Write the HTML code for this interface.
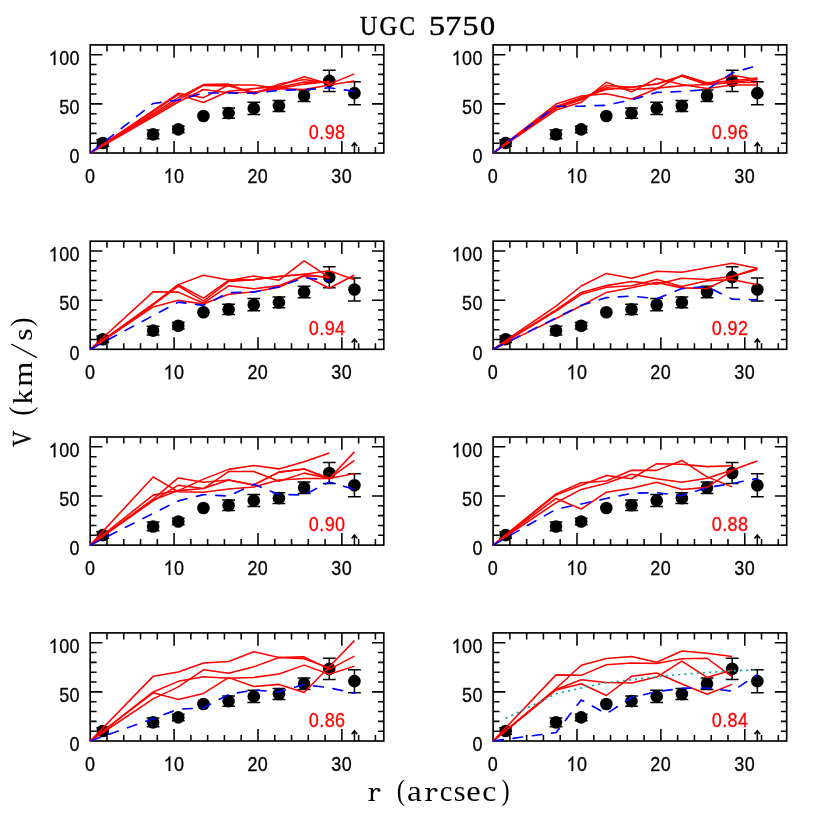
<!DOCTYPE html>
<html><head><meta charset="utf-8"><title>UGC 5750</title>
<style>html,body{margin:0;padding:0;background:#fff}svg{display:block}text{font-family:"Liberation Sans",sans-serif}.s{font-family:"Liberation Serif",serif}.m{font-family:"Liberation Mono",monospace}</style></head><body>
<svg width="830" height="830" viewBox="0 0 830 830" style="will-change:transform">
<rect width="830" height="830" fill="#fff"/>
<g>
<path d="M106.98 153v-6M106.98 44.9v6.5M123.75 153v-6M123.75 44.9v6.5M140.53 153v-6M140.53 44.9v6.5M157.31 153v-6M157.31 44.9v6.5M174.09 153v-12.1M174.09 44.9v12.8M190.86 153v-6M190.86 44.9v6.5M207.64 153v-6M207.64 44.9v6.5M224.42 153v-6M224.42 44.9v6.5M241.19 153v-6M241.19 44.9v6.5M257.97 153v-12.1M257.97 44.9v12.8M274.75 153v-6M274.75 44.9v6.5M291.53 153v-6M291.53 44.9v6.5M308.3 153v-6M308.3 44.9v6.5M325.08 153v-6M325.08 44.9v6.5M341.86 153v-12.1M341.86 44.9v12.8M358.63 153v-6M358.63 44.9v6.5M375.41 153v-6M375.41 44.9v6.5M90.2 143.17h6.4M383.8 143.17h-5.8M90.2 133.35h6.4M383.8 133.35h-5.8M90.2 123.52h6.4M383.8 123.52h-5.8M90.2 113.69h6.4M383.8 113.69h-5.8M90.2 103.86h12.2M383.8 103.86h-11.8M90.2 94.04h6.4M383.8 94.04h-5.8M90.2 84.21h6.4M383.8 84.21h-5.8M90.2 74.38h6.4M383.8 74.38h-5.8M90.2 64.55h6.4M383.8 64.55h-5.8M90.2 54.73h12.2M383.8 54.73h-11.8" stroke="#000" stroke-width="1.55" fill="none"/>
<rect x="90.2" y="44.9" width="293.6" height="108.1" fill="none" stroke="#000" stroke-width="1.65"/>
<path d="M102.78 139.73V146.22M96.38 139.73H109.18M96.38 146.22H109.18M153.11 130V138.65M146.71 130H159.51M146.71 138.65H159.51M178.28 126.17V132.66M171.88 126.17H184.68M171.88 132.66H184.68M228.61 107.89V118.31M222.21 107.89H235.01M222.21 118.31H235.01M253.78 102.29V114.48M247.38 102.29H260.18M247.38 114.48H260.18M278.94 100.62V111.43M272.54 100.62H285.34M272.54 111.43H285.34M304.11 90.01V101.41M297.71 90.01H310.51M297.71 101.41H310.51M329.27 70.35V91.38M322.87 70.35H335.67M322.87 91.38H335.67M354.44 81.65V104.65M348.04 81.65H360.84M348.04 104.65H360.84" stroke="#000" stroke-width="1.5" fill="none"/>
<circle cx="102.78" cy="142.98" r="6.3" fill="#000"/>
<circle cx="153.11" cy="134.33" r="6.3" fill="#000"/>
<circle cx="178.28" cy="129.41" r="6.3" fill="#000"/>
<circle cx="203.45" cy="115.95" r="6.3" fill="#000"/>
<circle cx="228.61" cy="113.1" r="6.3" fill="#000"/>
<circle cx="253.78" cy="108.38" r="6.3" fill="#000"/>
<circle cx="278.94" cy="106.03" r="6.3" fill="#000"/>
<circle cx="304.11" cy="95.71" r="6.3" fill="#000"/>
<circle cx="329.27" cy="80.87" r="6.3" fill="#000"/>
<circle cx="354.44" cy="93.15" r="6.3" fill="#000"/>
<polyline points="90.2,153 153.11,110.55 178.28,93.35 203.45,97.67 228.61,85 253.78,85 278.94,88.63 304.11,89.52 329.27,85 354.44,81.06" fill="none" stroke="#ff0000" stroke-width="1.55" stroke-linejoin="round"/>
<polyline points="90.2,153 153.11,111.53 178.28,94.63 203.45,102.49 228.61,91.28 253.78,88.63 278.94,85.88 304.11,76.84 329.27,84.11 354.44,73.89" fill="none" stroke="#ff0000" stroke-width="1.55" stroke-linejoin="round"/>
<polyline points="90.2,153 153.11,113.59 178.28,97.57 203.45,84.6 228.61,84.11 253.78,94.04 278.94,84.11 304.11,79.59 329.27,83.23" fill="none" stroke="#ff0000" stroke-width="1.55" stroke-linejoin="round"/>
<polyline points="90.2,153 153.11,115.16 178.28,99.83 203.45,85.39 228.61,85.88 253.78,92.27 278.94,87.35 304.11,81.95 329.27,82.24" fill="none" stroke="#ff0000" stroke-width="1.55" stroke-linejoin="round"/>
<polyline points="90.2,153 153.11,116.74 178.28,102 203.45,89.52 228.61,92.76 253.78,92.27 278.94,88.63 304.11,84.11 329.27,81.36" fill="none" stroke="#ff0000" stroke-width="1.55" stroke-linejoin="round"/>
<polyline points="90.2,153 153.11,103.47 178.28,100.13 203.45,92.96 228.61,92.96 253.78,93.25 278.94,90.4 304.11,89.71 329.27,87.75 354.44,91.28" fill="none" stroke="#0000ff" stroke-width="1.65" stroke-dasharray="9.6,9.85" stroke-dashoffset="-0.7" stroke-linecap="round" stroke-linejoin="round"/>
<path d="M354.44 153V142.8M351.64 146.3L354.44 142.8L357.24 146.3" stroke="#000" stroke-width="1.55" fill="none" stroke-linejoin="miter"/>
<text transform="translate(84.89,183) scale(1,1.1389)" font-size="18" stroke-width="0.25" stroke="#000" fill="#000">0</text>
<path transform="translate(163.58,183) scale(0.00879,-0.01001)" d="M763 0H583V1147Q518 1085 412.5 1023T223 930V1104Q380 1178 497.5 1283T664 1466H763Z" fill="#000" stroke="#000" stroke-width="28.44"/>
<text transform="translate(173.99,183) scale(1,1.1389)" font-size="18" stroke-width="0.25" stroke="#000" fill="#000">0</text>
<text transform="translate(247.46,183) scale(1,1.1389)" font-size="18" stroke-width="0.25" stroke="#000" fill="#000">2</text>
<text transform="translate(257.87,183) scale(1,1.1389)" font-size="18" stroke-width="0.25" stroke="#000" fill="#000">0</text>
<text transform="translate(331.35,183) scale(1,1.1389)" font-size="18" stroke-width="0.25" stroke="#000" fill="#000">3</text>
<text transform="translate(341.76,183) scale(1,1.1389)" font-size="18" stroke-width="0.25" stroke="#000" fill="#000">0</text>
<text transform="translate(69.59,163.3) scale(1,1.1111)" font-size="18" stroke-width="0.25" stroke="#000" fill="#000">0</text>
<text transform="translate(59.13,114.16) scale(1,1.1111)" font-size="18" stroke-width="0.25" stroke="#000" fill="#000">5</text>
<text transform="translate(69.59,114.16) scale(1,1.1111)" font-size="18" stroke-width="0.25" stroke="#000" fill="#000">0</text>
<path transform="translate(48.67,65.03) scale(0.00879,-0.00977)" d="M763 0H583V1147Q518 1085 412.5 1023T223 930V1104Q380 1178 497.5 1283T664 1466H763Z" fill="#000" stroke="#000" stroke-width="28.44"/>
<text transform="translate(59.13,65.03) scale(1,1.1111)" font-size="18" stroke-width="0.25" stroke="#000" fill="#000">0</text>
<text transform="translate(69.59,65.03) scale(1,1.1111)" font-size="18" stroke-width="0.25" stroke="#000" fill="#000">0</text>
<text transform="translate(308.87,138.5) scale(1,1.1389)" font-size="18" stroke-width="0.25" stroke="#ff0000" fill="#ff0000">0</text>
<text transform="translate(319.28,138.5) scale(1,1.1389)" font-size="18" stroke-width="0.25" stroke="#ff0000" fill="#ff0000">.</text>
<text transform="translate(324.68,138.5) scale(1,1.1389)" font-size="18" stroke-width="0.25" stroke="#ff0000" fill="#ff0000">9</text>
<text transform="translate(335.09,138.5) scale(1,1.1389)" font-size="18" stroke-width="0.25" stroke="#ff0000" fill="#ff0000">8</text>
</g>
<g>
<path d="M509.88 153v-6M509.88 44.9v6.5M526.65 153v-6M526.65 44.9v6.5M543.43 153v-6M543.43 44.9v6.5M560.21 153v-6M560.21 44.9v6.5M576.99 153v-12.1M576.99 44.9v12.8M593.76 153v-6M593.76 44.9v6.5M610.54 153v-6M610.54 44.9v6.5M627.32 153v-6M627.32 44.9v6.5M644.09 153v-6M644.09 44.9v6.5M660.87 153v-12.1M660.87 44.9v12.8M677.65 153v-6M677.65 44.9v6.5M694.43 153v-6M694.43 44.9v6.5M711.2 153v-6M711.2 44.9v6.5M727.98 153v-6M727.98 44.9v6.5M744.76 153v-12.1M744.76 44.9v12.8M761.53 153v-6M761.53 44.9v6.5M778.31 153v-6M778.31 44.9v6.5M493.1 143.17h6.4M786.7 143.17h-5.8M493.1 133.35h6.4M786.7 133.35h-5.8M493.1 123.52h6.4M786.7 123.52h-5.8M493.1 113.69h6.4M786.7 113.69h-5.8M493.1 103.86h12.2M786.7 103.86h-11.8M493.1 94.04h6.4M786.7 94.04h-5.8M493.1 84.21h6.4M786.7 84.21h-5.8M493.1 74.38h6.4M786.7 74.38h-5.8M493.1 64.55h6.4M786.7 64.55h-5.8M493.1 54.73h12.2M786.7 54.73h-11.8" stroke="#000" stroke-width="1.55" fill="none"/>
<rect x="493.1" y="44.9" width="293.6" height="108.1" fill="none" stroke="#000" stroke-width="1.65"/>
<path d="M505.68 139.73V146.22M499.28 139.73H512.08M499.28 146.22H512.08M556.01 130V138.65M549.61 130H562.41M549.61 138.65H562.41M581.18 126.17V132.66M574.78 126.17H587.58M574.78 132.66H587.58M631.51 107.89V118.31M625.11 107.89H637.91M625.11 118.31H637.91M656.68 102.29V114.48M650.28 102.29H663.08M650.28 114.48H663.08M681.84 100.62V111.43M675.44 100.62H688.24M675.44 111.43H688.24M707.01 90.01V101.41M700.61 90.01H713.41M700.61 101.41H713.41M732.17 70.35V91.38M725.77 70.35H738.57M725.77 91.38H738.57M757.34 81.65V104.65M750.94 81.65H763.74M750.94 104.65H763.74" stroke="#000" stroke-width="1.5" fill="none"/>
<circle cx="505.68" cy="142.98" r="6.3" fill="#000"/>
<circle cx="556.01" cy="134.33" r="6.3" fill="#000"/>
<circle cx="581.18" cy="129.41" r="6.3" fill="#000"/>
<circle cx="606.35" cy="115.95" r="6.3" fill="#000"/>
<circle cx="631.51" cy="113.1" r="6.3" fill="#000"/>
<circle cx="656.68" cy="108.38" r="6.3" fill="#000"/>
<circle cx="681.84" cy="106.03" r="6.3" fill="#000"/>
<circle cx="707.01" cy="95.71" r="6.3" fill="#000"/>
<circle cx="732.17" cy="80.87" r="6.3" fill="#000"/>
<circle cx="757.34" cy="93.15" r="6.3" fill="#000"/>
<polyline points="493.1,153 556.01,104.06 581.18,96.1 606.35,93.74 631.51,98.95 656.68,88.73 681.84,75.07 707.01,82.73 732.17,80.67 757.34,78.12" fill="none" stroke="#ff0000" stroke-width="1.55" stroke-linejoin="round"/>
<polyline points="493.1,153 556.01,106.42 581.18,97.77 606.35,89.52 631.51,87.35 656.68,83.91 681.84,76.05 707.01,84.5 732.17,75.27 757.34,79.49" fill="none" stroke="#ff0000" stroke-width="1.55" stroke-linejoin="round"/>
<polyline points="493.1,153 556.01,108.29 581.18,99.83 606.35,85.49 631.51,87.35 656.68,83.91 681.84,76.05 707.01,84.5 732.17,82.54 757.34,82.54" fill="none" stroke="#ff0000" stroke-width="1.55" stroke-linejoin="round"/>
<polyline points="493.1,153 556.01,110.05 581.18,102.29 606.35,82.24 631.51,91.87 656.68,78.51 681.84,84.5 707.01,88.43 732.17,84.9 757.34,84.9" fill="none" stroke="#ff0000" stroke-width="1.55" stroke-linejoin="round"/>
<polyline points="493.1,153 556.01,107.4 581.18,99.05 606.35,87.75 631.51,89.52 656.68,88.14 681.84,85.68 707.01,84.5 732.17,82.54 757.34,79.49" fill="none" stroke="#ff0000" stroke-width="1.55" stroke-linejoin="round"/>
<polyline points="493.1,153 556.01,106.22 581.18,106.22 606.35,105.24 631.51,99.83 656.68,92.37 681.84,91.48 707.01,89.52 732.17,72.91 757.34,65.64" fill="none" stroke="#0000ff" stroke-width="1.65" stroke-dasharray="9.6,9.85" stroke-dashoffset="-0.7" stroke-linecap="round" stroke-linejoin="round"/>
<path d="M757.34 153V142.8M754.54 146.3L757.34 142.8L760.14 146.3" stroke="#000" stroke-width="1.55" fill="none" stroke-linejoin="miter"/>
<text transform="translate(487.79,183) scale(1,1.1389)" font-size="18" stroke-width="0.25" stroke="#000" fill="#000">0</text>
<path transform="translate(566.48,183) scale(0.00879,-0.01001)" d="M763 0H583V1147Q518 1085 412.5 1023T223 930V1104Q380 1178 497.5 1283T664 1466H763Z" fill="#000" stroke="#000" stroke-width="28.44"/>
<text transform="translate(576.89,183) scale(1,1.1389)" font-size="18" stroke-width="0.25" stroke="#000" fill="#000">0</text>
<text transform="translate(650.36,183) scale(1,1.1389)" font-size="18" stroke-width="0.25" stroke="#000" fill="#000">2</text>
<text transform="translate(660.77,183) scale(1,1.1389)" font-size="18" stroke-width="0.25" stroke="#000" fill="#000">0</text>
<text transform="translate(734.25,183) scale(1,1.1389)" font-size="18" stroke-width="0.25" stroke="#000" fill="#000">3</text>
<text transform="translate(744.66,183) scale(1,1.1389)" font-size="18" stroke-width="0.25" stroke="#000" fill="#000">0</text>
<text transform="translate(472.49,163.3) scale(1,1.1111)" font-size="18" stroke-width="0.25" stroke="#000" fill="#000">0</text>
<text transform="translate(462.03,114.16) scale(1,1.1111)" font-size="18" stroke-width="0.25" stroke="#000" fill="#000">5</text>
<text transform="translate(472.49,114.16) scale(1,1.1111)" font-size="18" stroke-width="0.25" stroke="#000" fill="#000">0</text>
<path transform="translate(451.57,65.03) scale(0.00879,-0.00977)" d="M763 0H583V1147Q518 1085 412.5 1023T223 930V1104Q380 1178 497.5 1283T664 1466H763Z" fill="#000" stroke="#000" stroke-width="28.44"/>
<text transform="translate(462.03,65.03) scale(1,1.1111)" font-size="18" stroke-width="0.25" stroke="#000" fill="#000">0</text>
<text transform="translate(472.49,65.03) scale(1,1.1111)" font-size="18" stroke-width="0.25" stroke="#000" fill="#000">0</text>
<text transform="translate(711.77,138.5) scale(1,1.1389)" font-size="18" stroke-width="0.25" stroke="#ff0000" fill="#ff0000">0</text>
<text transform="translate(722.18,138.5) scale(1,1.1389)" font-size="18" stroke-width="0.25" stroke="#ff0000" fill="#ff0000">.</text>
<text transform="translate(727.58,138.5) scale(1,1.1389)" font-size="18" stroke-width="0.25" stroke="#ff0000" fill="#ff0000">9</text>
<text transform="translate(737.99,138.5) scale(1,1.1389)" font-size="18" stroke-width="0.25" stroke="#ff0000" fill="#ff0000">6</text>
</g>
<g>
<path d="M106.98 349.3v-6M106.98 241.2v6.5M123.75 349.3v-6M123.75 241.2v6.5M140.53 349.3v-6M140.53 241.2v6.5M157.31 349.3v-6M157.31 241.2v6.5M174.09 349.3v-12.1M174.09 241.2v12.8M190.86 349.3v-6M190.86 241.2v6.5M207.64 349.3v-6M207.64 241.2v6.5M224.42 349.3v-6M224.42 241.2v6.5M241.19 349.3v-6M241.19 241.2v6.5M257.97 349.3v-12.1M257.97 241.2v12.8M274.75 349.3v-6M274.75 241.2v6.5M291.53 349.3v-6M291.53 241.2v6.5M308.3 349.3v-6M308.3 241.2v6.5M325.08 349.3v-6M325.08 241.2v6.5M341.86 349.3v-12.1M341.86 241.2v12.8M358.63 349.3v-6M358.63 241.2v6.5M375.41 349.3v-6M375.41 241.2v6.5M90.2 339.47h6.4M383.8 339.47h-5.8M90.2 329.65h6.4M383.8 329.65h-5.8M90.2 319.82h6.4M383.8 319.82h-5.8M90.2 309.99h6.4M383.8 309.99h-5.8M90.2 300.16h12.2M383.8 300.16h-11.8M90.2 290.34h6.4M383.8 290.34h-5.8M90.2 280.51h6.4M383.8 280.51h-5.8M90.2 270.68h6.4M383.8 270.68h-5.8M90.2 260.85h6.4M383.8 260.85h-5.8M90.2 251.03h12.2M383.8 251.03h-11.8" stroke="#000" stroke-width="1.55" fill="none"/>
<rect x="90.2" y="241.2" width="293.6" height="108.1" fill="none" stroke="#000" stroke-width="1.65"/>
<path d="M102.78 336.03V342.52M96.38 336.03H109.18M96.38 342.52H109.18M153.11 326.3V334.95M146.71 326.3H159.51M146.71 334.95H159.51M178.28 322.47V328.96M171.88 322.47H184.68M171.88 328.96H184.68M228.61 304.19V314.61M222.21 304.19H235.01M222.21 314.61H235.01M253.78 298.59V310.78M247.38 298.59H260.18M247.38 310.78H260.18M278.94 296.92V307.73M272.54 296.92H285.34M272.54 307.73H285.34M304.11 286.31V297.71M297.71 286.31H310.51M297.71 297.71H310.51M329.27 266.65V287.68M322.87 266.65H335.67M322.87 287.68H335.67M354.44 277.95V300.95M348.04 277.95H360.84M348.04 300.95H360.84" stroke="#000" stroke-width="1.5" fill="none"/>
<circle cx="102.78" cy="339.28" r="6.3" fill="#000"/>
<circle cx="153.11" cy="330.63" r="6.3" fill="#000"/>
<circle cx="178.28" cy="325.71" r="6.3" fill="#000"/>
<circle cx="203.45" cy="312.25" r="6.3" fill="#000"/>
<circle cx="228.61" cy="309.4" r="6.3" fill="#000"/>
<circle cx="253.78" cy="304.68" r="6.3" fill="#000"/>
<circle cx="278.94" cy="302.33" r="6.3" fill="#000"/>
<circle cx="304.11" cy="292.01" r="6.3" fill="#000"/>
<circle cx="329.27" cy="277.17" r="6.3" fill="#000"/>
<circle cx="354.44" cy="289.45" r="6.3" fill="#000"/>
<polyline points="90.2,349.3 153.11,291.81 178.28,292.11 203.45,303.21 228.61,285.82 253.78,288.76 278.94,285.62 304.11,275.69 329.27,288.27 354.44,275.01" fill="none" stroke="#ff0000" stroke-width="1.55" stroke-linejoin="round"/>
<polyline points="90.2,349.3 153.11,304 178.28,284.64 203.45,275.2 228.61,280.02 253.78,279.62 278.94,276.58 304.11,274.22 329.27,270.78 354.44,279.82" fill="none" stroke="#ff0000" stroke-width="1.55" stroke-linejoin="round"/>
<polyline points="90.2,349.3 153.11,304.49 178.28,284.64 203.45,298.1 228.61,280.41 253.78,275.99 278.94,280.21 304.11,260.95 329.27,277.46" fill="none" stroke="#ff0000" stroke-width="1.55" stroke-linejoin="round"/>
<polyline points="90.2,349.3 153.11,304.98 178.28,286.01 203.45,301.05 228.61,281.49 253.78,279.62 278.94,276.58 304.11,274.22 329.27,277.95" fill="none" stroke="#ff0000" stroke-width="1.55" stroke-linejoin="round"/>
<polyline points="90.2,349.3 153.11,306.94 178.28,300.36 203.45,304 228.61,294.27 253.78,291.71 278.94,287.19 304.11,275.69 329.27,277.07" fill="none" stroke="#ff0000" stroke-width="1.55" stroke-linejoin="round"/>
<polyline points="90.2,349.3 178.28,302.13 203.45,305.37 228.61,292.69 253.78,292.11 278.94,286.7 304.11,277.66 329.27,280.71" fill="none" stroke="#0000ff" stroke-width="1.65" stroke-dasharray="9.6,9.85" stroke-dashoffset="-0.7" stroke-linecap="round" stroke-linejoin="round"/>
<path d="M354.44 349.3V339.1M351.64 342.6L354.44 339.1L357.24 342.6" stroke="#000" stroke-width="1.55" fill="none" stroke-linejoin="miter"/>
<text transform="translate(84.89,379.3) scale(1,1.1389)" font-size="18" stroke-width="0.25" stroke="#000" fill="#000">0</text>
<path transform="translate(163.58,379.3) scale(0.00879,-0.01001)" d="M763 0H583V1147Q518 1085 412.5 1023T223 930V1104Q380 1178 497.5 1283T664 1466H763Z" fill="#000" stroke="#000" stroke-width="28.44"/>
<text transform="translate(173.99,379.3) scale(1,1.1389)" font-size="18" stroke-width="0.25" stroke="#000" fill="#000">0</text>
<text transform="translate(247.46,379.3) scale(1,1.1389)" font-size="18" stroke-width="0.25" stroke="#000" fill="#000">2</text>
<text transform="translate(257.87,379.3) scale(1,1.1389)" font-size="18" stroke-width="0.25" stroke="#000" fill="#000">0</text>
<text transform="translate(331.35,379.3) scale(1,1.1389)" font-size="18" stroke-width="0.25" stroke="#000" fill="#000">3</text>
<text transform="translate(341.76,379.3) scale(1,1.1389)" font-size="18" stroke-width="0.25" stroke="#000" fill="#000">0</text>
<text transform="translate(69.59,359.6) scale(1,1.1111)" font-size="18" stroke-width="0.25" stroke="#000" fill="#000">0</text>
<text transform="translate(59.13,310.46) scale(1,1.1111)" font-size="18" stroke-width="0.25" stroke="#000" fill="#000">5</text>
<text transform="translate(69.59,310.46) scale(1,1.1111)" font-size="18" stroke-width="0.25" stroke="#000" fill="#000">0</text>
<path transform="translate(48.67,261.33) scale(0.00879,-0.00977)" d="M763 0H583V1147Q518 1085 412.5 1023T223 930V1104Q380 1178 497.5 1283T664 1466H763Z" fill="#000" stroke="#000" stroke-width="28.44"/>
<text transform="translate(59.13,261.33) scale(1,1.1111)" font-size="18" stroke-width="0.25" stroke="#000" fill="#000">0</text>
<text transform="translate(69.59,261.33) scale(1,1.1111)" font-size="18" stroke-width="0.25" stroke="#000" fill="#000">0</text>
<text transform="translate(308.87,334.8) scale(1,1.1389)" font-size="18" stroke-width="0.25" stroke="#ff0000" fill="#ff0000">0</text>
<text transform="translate(319.28,334.8) scale(1,1.1389)" font-size="18" stroke-width="0.25" stroke="#ff0000" fill="#ff0000">.</text>
<text transform="translate(324.68,334.8) scale(1,1.1389)" font-size="18" stroke-width="0.25" stroke="#ff0000" fill="#ff0000">9</text>
<text transform="translate(335.09,334.8) scale(1,1.1389)" font-size="18" stroke-width="0.25" stroke="#ff0000" fill="#ff0000">4</text>
</g>
<g>
<path d="M509.88 349.3v-6M509.88 241.2v6.5M526.65 349.3v-6M526.65 241.2v6.5M543.43 349.3v-6M543.43 241.2v6.5M560.21 349.3v-6M560.21 241.2v6.5M576.99 349.3v-12.1M576.99 241.2v12.8M593.76 349.3v-6M593.76 241.2v6.5M610.54 349.3v-6M610.54 241.2v6.5M627.32 349.3v-6M627.32 241.2v6.5M644.09 349.3v-6M644.09 241.2v6.5M660.87 349.3v-12.1M660.87 241.2v12.8M677.65 349.3v-6M677.65 241.2v6.5M694.43 349.3v-6M694.43 241.2v6.5M711.2 349.3v-6M711.2 241.2v6.5M727.98 349.3v-6M727.98 241.2v6.5M744.76 349.3v-12.1M744.76 241.2v12.8M761.53 349.3v-6M761.53 241.2v6.5M778.31 349.3v-6M778.31 241.2v6.5M493.1 339.47h6.4M786.7 339.47h-5.8M493.1 329.65h6.4M786.7 329.65h-5.8M493.1 319.82h6.4M786.7 319.82h-5.8M493.1 309.99h6.4M786.7 309.99h-5.8M493.1 300.16h12.2M786.7 300.16h-11.8M493.1 290.34h6.4M786.7 290.34h-5.8M493.1 280.51h6.4M786.7 280.51h-5.8M493.1 270.68h6.4M786.7 270.68h-5.8M493.1 260.85h6.4M786.7 260.85h-5.8M493.1 251.03h12.2M786.7 251.03h-11.8" stroke="#000" stroke-width="1.55" fill="none"/>
<rect x="493.1" y="241.2" width="293.6" height="108.1" fill="none" stroke="#000" stroke-width="1.65"/>
<path d="M505.68 336.03V342.52M499.28 336.03H512.08M499.28 342.52H512.08M556.01 326.3V334.95M549.61 326.3H562.41M549.61 334.95H562.41M581.18 322.47V328.96M574.78 322.47H587.58M574.78 328.96H587.58M631.51 304.19V314.61M625.11 304.19H637.91M625.11 314.61H637.91M656.68 298.59V310.78M650.28 298.59H663.08M650.28 310.78H663.08M681.84 296.92V307.73M675.44 296.92H688.24M675.44 307.73H688.24M707.01 286.31V297.71M700.61 286.31H713.41M700.61 297.71H713.41M732.17 266.65V287.68M725.77 266.65H738.57M725.77 287.68H738.57M757.34 277.95V300.95M750.94 277.95H763.74M750.94 300.95H763.74" stroke="#000" stroke-width="1.5" fill="none"/>
<circle cx="505.68" cy="339.28" r="6.3" fill="#000"/>
<circle cx="556.01" cy="330.63" r="6.3" fill="#000"/>
<circle cx="581.18" cy="325.71" r="6.3" fill="#000"/>
<circle cx="606.35" cy="312.25" r="6.3" fill="#000"/>
<circle cx="631.51" cy="309.4" r="6.3" fill="#000"/>
<circle cx="656.68" cy="304.68" r="6.3" fill="#000"/>
<circle cx="681.84" cy="302.33" r="6.3" fill="#000"/>
<circle cx="707.01" cy="292.01" r="6.3" fill="#000"/>
<circle cx="732.17" cy="277.17" r="6.3" fill="#000"/>
<circle cx="757.34" cy="289.45" r="6.3" fill="#000"/>
<polyline points="493.1,349.3 556.01,306.06 581.18,286.01 606.35,273.43 631.51,278.25 656.68,271.17 681.84,272.35 707.01,267.83 732.17,263.31 757.34,268.32" fill="none" stroke="#ff0000" stroke-width="1.55" stroke-linejoin="round"/>
<polyline points="493.1,349.3 556.01,309.99 581.18,292.4 606.35,285.62 631.51,281.59 656.68,284.24 681.84,278.15 707.01,279.43 732.17,276.58 757.34,269.6" fill="none" stroke="#ff0000" stroke-width="1.55" stroke-linejoin="round"/>
<polyline points="493.1,349.3 556.01,311.17 581.18,294.27 606.35,287.19 631.51,285.82 656.68,279.43 681.84,286.6 707.01,280.71 732.17,279.53 757.34,284.64" fill="none" stroke="#ff0000" stroke-width="1.55" stroke-linejoin="round"/>
<polyline points="493.1,349.3 556.01,318.44 581.18,305.77 606.35,292.4 631.51,287.78 656.68,282.38 681.84,287.88 707.01,288.57 732.17,276.58 757.34,268.32" fill="none" stroke="#ff0000" stroke-width="1.55" stroke-linejoin="round"/>
<polyline points="493.1,349.3 581.18,305.37 606.35,297.61 631.51,296.04 656.68,298.79 681.84,288.57 707.01,286.6 732.17,299.18 757.34,299.77" fill="none" stroke="#0000ff" stroke-width="1.65" stroke-dasharray="9.6,9.85" stroke-dashoffset="-0.7" stroke-linecap="round" stroke-linejoin="round"/>
<path d="M757.34 349.3V339.1M754.54 342.6L757.34 339.1L760.14 342.6" stroke="#000" stroke-width="1.55" fill="none" stroke-linejoin="miter"/>
<text transform="translate(487.79,379.3) scale(1,1.1389)" font-size="18" stroke-width="0.25" stroke="#000" fill="#000">0</text>
<path transform="translate(566.48,379.3) scale(0.00879,-0.01001)" d="M763 0H583V1147Q518 1085 412.5 1023T223 930V1104Q380 1178 497.5 1283T664 1466H763Z" fill="#000" stroke="#000" stroke-width="28.44"/>
<text transform="translate(576.89,379.3) scale(1,1.1389)" font-size="18" stroke-width="0.25" stroke="#000" fill="#000">0</text>
<text transform="translate(650.36,379.3) scale(1,1.1389)" font-size="18" stroke-width="0.25" stroke="#000" fill="#000">2</text>
<text transform="translate(660.77,379.3) scale(1,1.1389)" font-size="18" stroke-width="0.25" stroke="#000" fill="#000">0</text>
<text transform="translate(734.25,379.3) scale(1,1.1389)" font-size="18" stroke-width="0.25" stroke="#000" fill="#000">3</text>
<text transform="translate(744.66,379.3) scale(1,1.1389)" font-size="18" stroke-width="0.25" stroke="#000" fill="#000">0</text>
<text transform="translate(472.49,359.6) scale(1,1.1111)" font-size="18" stroke-width="0.25" stroke="#000" fill="#000">0</text>
<text transform="translate(462.03,310.46) scale(1,1.1111)" font-size="18" stroke-width="0.25" stroke="#000" fill="#000">5</text>
<text transform="translate(472.49,310.46) scale(1,1.1111)" font-size="18" stroke-width="0.25" stroke="#000" fill="#000">0</text>
<path transform="translate(451.57,261.33) scale(0.00879,-0.00977)" d="M763 0H583V1147Q518 1085 412.5 1023T223 930V1104Q380 1178 497.5 1283T664 1466H763Z" fill="#000" stroke="#000" stroke-width="28.44"/>
<text transform="translate(462.03,261.33) scale(1,1.1111)" font-size="18" stroke-width="0.25" stroke="#000" fill="#000">0</text>
<text transform="translate(472.49,261.33) scale(1,1.1111)" font-size="18" stroke-width="0.25" stroke="#000" fill="#000">0</text>
<text transform="translate(711.77,334.8) scale(1,1.1389)" font-size="18" stroke-width="0.25" stroke="#ff0000" fill="#ff0000">0</text>
<text transform="translate(722.18,334.8) scale(1,1.1389)" font-size="18" stroke-width="0.25" stroke="#ff0000" fill="#ff0000">.</text>
<text transform="translate(727.58,334.8) scale(1,1.1389)" font-size="18" stroke-width="0.25" stroke="#ff0000" fill="#ff0000">9</text>
<text transform="translate(737.99,334.8) scale(1,1.1389)" font-size="18" stroke-width="0.25" stroke="#ff0000" fill="#ff0000">2</text>
</g>
<g>
<path d="M106.98 545.1v-6M106.98 437v6.5M123.75 545.1v-6M123.75 437v6.5M140.53 545.1v-6M140.53 437v6.5M157.31 545.1v-6M157.31 437v6.5M174.09 545.1v-12.1M174.09 437v12.8M190.86 545.1v-6M190.86 437v6.5M207.64 545.1v-6M207.64 437v6.5M224.42 545.1v-6M224.42 437v6.5M241.19 545.1v-6M241.19 437v6.5M257.97 545.1v-12.1M257.97 437v12.8M274.75 545.1v-6M274.75 437v6.5M291.53 545.1v-6M291.53 437v6.5M308.3 545.1v-6M308.3 437v6.5M325.08 545.1v-6M325.08 437v6.5M341.86 545.1v-12.1M341.86 437v12.8M358.63 545.1v-6M358.63 437v6.5M375.41 545.1v-6M375.41 437v6.5M90.2 535.27h6.4M383.8 535.27h-5.8M90.2 525.45h6.4M383.8 525.45h-5.8M90.2 515.62h6.4M383.8 515.62h-5.8M90.2 505.79h6.4M383.8 505.79h-5.8M90.2 495.96h12.2M383.8 495.96h-11.8M90.2 486.14h6.4M383.8 486.14h-5.8M90.2 476.31h6.4M383.8 476.31h-5.8M90.2 466.48h6.4M383.8 466.48h-5.8M90.2 456.65h6.4M383.8 456.65h-5.8M90.2 446.83h12.2M383.8 446.83h-11.8" stroke="#000" stroke-width="1.55" fill="none"/>
<rect x="90.2" y="437" width="293.6" height="108.1" fill="none" stroke="#000" stroke-width="1.65"/>
<path d="M102.78 531.83V538.32M96.38 531.83H109.18M96.38 538.32H109.18M153.11 522.1V530.75M146.71 522.1H159.51M146.71 530.75H159.51M178.28 518.27V524.76M171.88 518.27H184.68M171.88 524.76H184.68M228.61 499.99V510.41M222.21 499.99H235.01M222.21 510.41H235.01M253.78 494.39V506.58M247.38 494.39H260.18M247.38 506.58H260.18M278.94 492.72V503.53M272.54 492.72H285.34M272.54 503.53H285.34M304.11 482.11V493.51M297.71 482.11H310.51M297.71 493.51H310.51M329.27 462.45V483.48M322.87 462.45H335.67M322.87 483.48H335.67M354.44 473.75V496.75M348.04 473.75H360.84M348.04 496.75H360.84" stroke="#000" stroke-width="1.5" fill="none"/>
<circle cx="102.78" cy="535.08" r="6.3" fill="#000"/>
<circle cx="153.11" cy="526.43" r="6.3" fill="#000"/>
<circle cx="178.28" cy="521.51" r="6.3" fill="#000"/>
<circle cx="203.45" cy="508.05" r="6.3" fill="#000"/>
<circle cx="228.61" cy="505.2" r="6.3" fill="#000"/>
<circle cx="253.78" cy="500.48" r="6.3" fill="#000"/>
<circle cx="278.94" cy="498.13" r="6.3" fill="#000"/>
<circle cx="304.11" cy="487.81" r="6.3" fill="#000"/>
<circle cx="329.27" cy="472.97" r="6.3" fill="#000"/>
<circle cx="354.44" cy="485.25" r="6.3" fill="#000"/>
<polyline points="90.2,545.1 153.11,476.95 178.28,491.79 203.45,492.18 228.61,488.94 253.78,486.97 278.94,479.99 304.11,478.52 329.27,478.42 354.44,473.51" fill="none" stroke="#ff0000" stroke-width="1.55" stroke-linejoin="round"/>
<polyline points="90.2,545.1 153.11,495.13 178.28,490.61 203.45,479.11 228.61,469.38 253.78,465.55 278.94,468.89 304.11,461.72 329.27,453.07" fill="none" stroke="#ff0000" stroke-width="1.55" stroke-linejoin="round"/>
<polyline points="90.2,545.1 153.11,499.16 178.28,477.93 203.45,482.16 228.61,479.9 253.78,484.91 278.94,472.13 304.11,468.99 329.27,478.42 354.44,451.89" fill="none" stroke="#ff0000" stroke-width="1.55" stroke-linejoin="round"/>
<polyline points="90.2,545.1 153.11,500.93 178.28,485.2 203.45,488.54 228.61,471.54 253.78,471.54 278.94,481.17 304.11,473.12 329.27,478.42 354.44,460.34" fill="none" stroke="#ff0000" stroke-width="1.55" stroke-linejoin="round"/>
<polyline points="90.2,545.1 153.11,499.94 178.28,490.61 203.45,488.54 228.61,479.9 253.78,484.91 278.94,472.13 304.11,468.99 329.27,478.42" fill="none" stroke="#ff0000" stroke-width="1.55" stroke-linejoin="round"/>
<polyline points="90.2,545.1 178.28,500.83 203.45,494.64 228.61,496.01 253.78,484.32 278.94,494.54 304.11,494.93 329.27,482.06 354.44,489.33" fill="none" stroke="#0000ff" stroke-width="1.65" stroke-dasharray="9.6,9.85" stroke-dashoffset="-0.7" stroke-linecap="round" stroke-linejoin="round"/>
<path d="M354.44 545.1V534.9M351.64 538.4L354.44 534.9L357.24 538.4" stroke="#000" stroke-width="1.55" fill="none" stroke-linejoin="miter"/>
<text transform="translate(84.89,575.1) scale(1,1.1389)" font-size="18" stroke-width="0.25" stroke="#000" fill="#000">0</text>
<path transform="translate(163.58,575.1) scale(0.00879,-0.01001)" d="M763 0H583V1147Q518 1085 412.5 1023T223 930V1104Q380 1178 497.5 1283T664 1466H763Z" fill="#000" stroke="#000" stroke-width="28.44"/>
<text transform="translate(173.99,575.1) scale(1,1.1389)" font-size="18" stroke-width="0.25" stroke="#000" fill="#000">0</text>
<text transform="translate(247.46,575.1) scale(1,1.1389)" font-size="18" stroke-width="0.25" stroke="#000" fill="#000">2</text>
<text transform="translate(257.87,575.1) scale(1,1.1389)" font-size="18" stroke-width="0.25" stroke="#000" fill="#000">0</text>
<text transform="translate(331.35,575.1) scale(1,1.1389)" font-size="18" stroke-width="0.25" stroke="#000" fill="#000">3</text>
<text transform="translate(341.76,575.1) scale(1,1.1389)" font-size="18" stroke-width="0.25" stroke="#000" fill="#000">0</text>
<text transform="translate(69.59,555.4) scale(1,1.1111)" font-size="18" stroke-width="0.25" stroke="#000" fill="#000">0</text>
<text transform="translate(59.13,506.26) scale(1,1.1111)" font-size="18" stroke-width="0.25" stroke="#000" fill="#000">5</text>
<text transform="translate(69.59,506.26) scale(1,1.1111)" font-size="18" stroke-width="0.25" stroke="#000" fill="#000">0</text>
<path transform="translate(48.67,457.13) scale(0.00879,-0.00977)" d="M763 0H583V1147Q518 1085 412.5 1023T223 930V1104Q380 1178 497.5 1283T664 1466H763Z" fill="#000" stroke="#000" stroke-width="28.44"/>
<text transform="translate(59.13,457.13) scale(1,1.1111)" font-size="18" stroke-width="0.25" stroke="#000" fill="#000">0</text>
<text transform="translate(69.59,457.13) scale(1,1.1111)" font-size="18" stroke-width="0.25" stroke="#000" fill="#000">0</text>
<text transform="translate(308.87,530.6) scale(1,1.1389)" font-size="18" stroke-width="0.25" stroke="#ff0000" fill="#ff0000">0</text>
<text transform="translate(319.28,530.6) scale(1,1.1389)" font-size="18" stroke-width="0.25" stroke="#ff0000" fill="#ff0000">.</text>
<text transform="translate(324.68,530.6) scale(1,1.1389)" font-size="18" stroke-width="0.25" stroke="#ff0000" fill="#ff0000">9</text>
<text transform="translate(335.09,530.6) scale(1,1.1389)" font-size="18" stroke-width="0.25" stroke="#ff0000" fill="#ff0000">0</text>
</g>
<g>
<path d="M509.88 545.1v-6M509.88 437v6.5M526.65 545.1v-6M526.65 437v6.5M543.43 545.1v-6M543.43 437v6.5M560.21 545.1v-6M560.21 437v6.5M576.99 545.1v-12.1M576.99 437v12.8M593.76 545.1v-6M593.76 437v6.5M610.54 545.1v-6M610.54 437v6.5M627.32 545.1v-6M627.32 437v6.5M644.09 545.1v-6M644.09 437v6.5M660.87 545.1v-12.1M660.87 437v12.8M677.65 545.1v-6M677.65 437v6.5M694.43 545.1v-6M694.43 437v6.5M711.2 545.1v-6M711.2 437v6.5M727.98 545.1v-6M727.98 437v6.5M744.76 545.1v-12.1M744.76 437v12.8M761.53 545.1v-6M761.53 437v6.5M778.31 545.1v-6M778.31 437v6.5M493.1 535.27h6.4M786.7 535.27h-5.8M493.1 525.45h6.4M786.7 525.45h-5.8M493.1 515.62h6.4M786.7 515.62h-5.8M493.1 505.79h6.4M786.7 505.79h-5.8M493.1 495.96h12.2M786.7 495.96h-11.8M493.1 486.14h6.4M786.7 486.14h-5.8M493.1 476.31h6.4M786.7 476.31h-5.8M493.1 466.48h6.4M786.7 466.48h-5.8M493.1 456.65h6.4M786.7 456.65h-5.8M493.1 446.83h12.2M786.7 446.83h-11.8" stroke="#000" stroke-width="1.55" fill="none"/>
<rect x="493.1" y="437" width="293.6" height="108.1" fill="none" stroke="#000" stroke-width="1.65"/>
<path d="M505.68 531.83V538.32M499.28 531.83H512.08M499.28 538.32H512.08M556.01 522.1V530.75M549.61 522.1H562.41M549.61 530.75H562.41M581.18 518.27V524.76M574.78 518.27H587.58M574.78 524.76H587.58M631.51 499.99V510.41M625.11 499.99H637.91M625.11 510.41H637.91M656.68 494.39V506.58M650.28 494.39H663.08M650.28 506.58H663.08M681.84 492.72V503.53M675.44 492.72H688.24M675.44 503.53H688.24M707.01 482.11V493.51M700.61 482.11H713.41M700.61 493.51H713.41M732.17 462.45V483.48M725.77 462.45H738.57M725.77 483.48H738.57M757.34 473.75V496.75M750.94 473.75H763.74M750.94 496.75H763.74" stroke="#000" stroke-width="1.5" fill="none"/>
<circle cx="505.68" cy="535.08" r="6.3" fill="#000"/>
<circle cx="556.01" cy="526.43" r="6.3" fill="#000"/>
<circle cx="581.18" cy="521.51" r="6.3" fill="#000"/>
<circle cx="606.35" cy="508.05" r="6.3" fill="#000"/>
<circle cx="631.51" cy="505.2" r="6.3" fill="#000"/>
<circle cx="656.68" cy="500.48" r="6.3" fill="#000"/>
<circle cx="681.84" cy="498.13" r="6.3" fill="#000"/>
<circle cx="707.01" cy="487.81" r="6.3" fill="#000"/>
<circle cx="732.17" cy="472.97" r="6.3" fill="#000"/>
<circle cx="757.34" cy="485.25" r="6.3" fill="#000"/>
<polyline points="493.1,545.1 556.01,498.47 581.18,509.08 606.35,492.18 631.51,488.35 656.68,482.16 681.84,489.43 707.01,487.36 732.17,470.56" fill="none" stroke="#ff0000" stroke-width="1.55" stroke-linejoin="round"/>
<polyline points="493.1,545.1 556.01,493.85 581.18,482.75 606.35,480.98 631.51,470.17 656.68,470.36 681.84,460.44 707.01,476.85 732.17,486.87" fill="none" stroke="#ff0000" stroke-width="1.55" stroke-linejoin="round"/>
<polyline points="493.1,545.1 556.01,494.93 581.18,485.2 606.35,475.57 631.51,478.72 656.68,463.68 681.84,464.27 707.01,466.63 732.17,465.74" fill="none" stroke="#ff0000" stroke-width="1.55" stroke-linejoin="round"/>
<polyline points="493.1,545.1 556.01,502.7 581.18,489.43 606.35,483.34 631.51,474.2 656.68,478.82 681.84,482.35 707.01,478.23 732.17,469.97 757.34,460.93" fill="none" stroke="#ff0000" stroke-width="1.55" stroke-linejoin="round"/>
<polyline points="493.1,545.1 556.01,509.28 581.18,503.97 606.35,498.47 631.51,493.36 656.68,492.67 681.84,495.72 707.01,487.66 732.17,483.53 757.34,478.42" fill="none" stroke="#0000ff" stroke-width="1.65" stroke-dasharray="9.6,9.85" stroke-dashoffset="-0.7" stroke-linecap="round" stroke-linejoin="round"/>
<path d="M757.34 545.1V534.9M754.54 538.4L757.34 534.9L760.14 538.4" stroke="#000" stroke-width="1.55" fill="none" stroke-linejoin="miter"/>
<text transform="translate(487.79,575.1) scale(1,1.1389)" font-size="18" stroke-width="0.25" stroke="#000" fill="#000">0</text>
<path transform="translate(566.48,575.1) scale(0.00879,-0.01001)" d="M763 0H583V1147Q518 1085 412.5 1023T223 930V1104Q380 1178 497.5 1283T664 1466H763Z" fill="#000" stroke="#000" stroke-width="28.44"/>
<text transform="translate(576.89,575.1) scale(1,1.1389)" font-size="18" stroke-width="0.25" stroke="#000" fill="#000">0</text>
<text transform="translate(650.36,575.1) scale(1,1.1389)" font-size="18" stroke-width="0.25" stroke="#000" fill="#000">2</text>
<text transform="translate(660.77,575.1) scale(1,1.1389)" font-size="18" stroke-width="0.25" stroke="#000" fill="#000">0</text>
<text transform="translate(734.25,575.1) scale(1,1.1389)" font-size="18" stroke-width="0.25" stroke="#000" fill="#000">3</text>
<text transform="translate(744.66,575.1) scale(1,1.1389)" font-size="18" stroke-width="0.25" stroke="#000" fill="#000">0</text>
<text transform="translate(472.49,555.4) scale(1,1.1111)" font-size="18" stroke-width="0.25" stroke="#000" fill="#000">0</text>
<text transform="translate(462.03,506.26) scale(1,1.1111)" font-size="18" stroke-width="0.25" stroke="#000" fill="#000">5</text>
<text transform="translate(472.49,506.26) scale(1,1.1111)" font-size="18" stroke-width="0.25" stroke="#000" fill="#000">0</text>
<path transform="translate(451.57,457.13) scale(0.00879,-0.00977)" d="M763 0H583V1147Q518 1085 412.5 1023T223 930V1104Q380 1178 497.5 1283T664 1466H763Z" fill="#000" stroke="#000" stroke-width="28.44"/>
<text transform="translate(462.03,457.13) scale(1,1.1111)" font-size="18" stroke-width="0.25" stroke="#000" fill="#000">0</text>
<text transform="translate(472.49,457.13) scale(1,1.1111)" font-size="18" stroke-width="0.25" stroke="#000" fill="#000">0</text>
<text transform="translate(711.77,530.6) scale(1,1.1389)" font-size="18" stroke-width="0.25" stroke="#ff0000" fill="#ff0000">0</text>
<text transform="translate(722.18,530.6) scale(1,1.1389)" font-size="18" stroke-width="0.25" stroke="#ff0000" fill="#ff0000">.</text>
<text transform="translate(727.58,530.6) scale(1,1.1389)" font-size="18" stroke-width="0.25" stroke="#ff0000" fill="#ff0000">8</text>
<text transform="translate(737.99,530.6) scale(1,1.1389)" font-size="18" stroke-width="0.25" stroke="#ff0000" fill="#ff0000">8</text>
</g>
<g>
<path d="M106.98 741v-6M106.98 632.9v6.5M123.75 741v-6M123.75 632.9v6.5M140.53 741v-6M140.53 632.9v6.5M157.31 741v-6M157.31 632.9v6.5M174.09 741v-12.1M174.09 632.9v12.8M190.86 741v-6M190.86 632.9v6.5M207.64 741v-6M207.64 632.9v6.5M224.42 741v-6M224.42 632.9v6.5M241.19 741v-6M241.19 632.9v6.5M257.97 741v-12.1M257.97 632.9v12.8M274.75 741v-6M274.75 632.9v6.5M291.53 741v-6M291.53 632.9v6.5M308.3 741v-6M308.3 632.9v6.5M325.08 741v-6M325.08 632.9v6.5M341.86 741v-12.1M341.86 632.9v12.8M358.63 741v-6M358.63 632.9v6.5M375.41 741v-6M375.41 632.9v6.5M90.2 731.17h6.4M383.8 731.17h-5.8M90.2 721.35h6.4M383.8 721.35h-5.8M90.2 711.52h6.4M383.8 711.52h-5.8M90.2 701.69h6.4M383.8 701.69h-5.8M90.2 691.86h12.2M383.8 691.86h-11.8M90.2 682.04h6.4M383.8 682.04h-5.8M90.2 672.21h6.4M383.8 672.21h-5.8M90.2 662.38h6.4M383.8 662.38h-5.8M90.2 652.55h6.4M383.8 652.55h-5.8M90.2 642.73h12.2M383.8 642.73h-11.8" stroke="#000" stroke-width="1.55" fill="none"/>
<rect x="90.2" y="632.9" width="293.6" height="108.1" fill="none" stroke="#000" stroke-width="1.65"/>
<path d="M102.78 727.73V734.22M96.38 727.73H109.18M96.38 734.22H109.18M153.11 718V726.65M146.71 718H159.51M146.71 726.65H159.51M178.28 714.17V720.66M171.88 714.17H184.68M171.88 720.66H184.68M228.61 695.89V706.31M222.21 695.89H235.01M222.21 706.31H235.01M253.78 690.29V702.48M247.38 690.29H260.18M247.38 702.48H260.18M278.94 688.62V699.43M272.54 688.62H285.34M272.54 699.43H285.34M304.11 678.01V689.41M297.71 678.01H310.51M297.71 689.41H310.51M329.27 658.35V679.38M322.87 658.35H335.67M322.87 679.38H335.67M354.44 669.65V692.65M348.04 669.65H360.84M348.04 692.65H360.84" stroke="#000" stroke-width="1.5" fill="none"/>
<circle cx="102.78" cy="730.98" r="6.3" fill="#000"/>
<circle cx="153.11" cy="722.33" r="6.3" fill="#000"/>
<circle cx="178.28" cy="717.41" r="6.3" fill="#000"/>
<circle cx="203.45" cy="703.95" r="6.3" fill="#000"/>
<circle cx="228.61" cy="701.1" r="6.3" fill="#000"/>
<circle cx="253.78" cy="696.38" r="6.3" fill="#000"/>
<circle cx="278.94" cy="694.03" r="6.3" fill="#000"/>
<circle cx="304.11" cy="683.71" r="6.3" fill="#000"/>
<circle cx="329.27" cy="668.87" r="6.3" fill="#000"/>
<circle cx="354.44" cy="681.15" r="6.3" fill="#000"/>
<polyline points="90.2,741 153.11,676.34 178.28,671.91 203.45,662.97 228.61,661.5 253.78,651.77 278.94,657.47 304.11,656.88 329.27,669.36 354.44,656.09" fill="none" stroke="#ff0000" stroke-width="1.55" stroke-linejoin="round"/>
<polyline points="90.2,741 153.11,691.96 178.28,681.35 203.45,676.83 228.61,678.3 253.78,677.42 278.94,673.98 304.11,665.13 329.27,674.17 354.44,666.12" fill="none" stroke="#ff0000" stroke-width="1.55" stroke-linejoin="round"/>
<polyline points="90.2,741 153.11,692.85 178.28,699.53 203.45,693.44 228.61,677.61 253.78,686.46 278.94,684.39 304.11,692.55 329.27,666.8 354.44,640.66" fill="none" stroke="#ff0000" stroke-width="1.55" stroke-linejoin="round"/>
<polyline points="90.2,741 153.11,698.84 178.28,686.85 203.45,669.85 228.61,673.19 253.78,666.8 278.94,657.47 304.11,658.84 329.27,668.08" fill="none" stroke="#ff0000" stroke-width="1.55" stroke-linejoin="round"/>
<polyline points="90.2,741 153.11,718.69 178.28,709.16 203.45,707.98 228.61,694.42 253.78,690.09 278.94,691.86 304.11,684.59 329.27,687.83 354.44,693.14" fill="none" stroke="#0000ff" stroke-width="1.65" stroke-dasharray="9.6,9.85" stroke-dashoffset="-0.7" stroke-linecap="round" stroke-linejoin="round"/>
<path d="M354.44 741V730.8M351.64 734.3L354.44 730.8L357.24 734.3" stroke="#000" stroke-width="1.55" fill="none" stroke-linejoin="miter"/>
<text transform="translate(84.89,771) scale(1,1.1389)" font-size="18" stroke-width="0.25" stroke="#000" fill="#000">0</text>
<path transform="translate(163.58,771) scale(0.00879,-0.01001)" d="M763 0H583V1147Q518 1085 412.5 1023T223 930V1104Q380 1178 497.5 1283T664 1466H763Z" fill="#000" stroke="#000" stroke-width="28.44"/>
<text transform="translate(173.99,771) scale(1,1.1389)" font-size="18" stroke-width="0.25" stroke="#000" fill="#000">0</text>
<text transform="translate(247.46,771) scale(1,1.1389)" font-size="18" stroke-width="0.25" stroke="#000" fill="#000">2</text>
<text transform="translate(257.87,771) scale(1,1.1389)" font-size="18" stroke-width="0.25" stroke="#000" fill="#000">0</text>
<text transform="translate(331.35,771) scale(1,1.1389)" font-size="18" stroke-width="0.25" stroke="#000" fill="#000">3</text>
<text transform="translate(341.76,771) scale(1,1.1389)" font-size="18" stroke-width="0.25" stroke="#000" fill="#000">0</text>
<text transform="translate(69.59,751.3) scale(1,1.1111)" font-size="18" stroke-width="0.25" stroke="#000" fill="#000">0</text>
<text transform="translate(59.13,702.16) scale(1,1.1111)" font-size="18" stroke-width="0.25" stroke="#000" fill="#000">5</text>
<text transform="translate(69.59,702.16) scale(1,1.1111)" font-size="18" stroke-width="0.25" stroke="#000" fill="#000">0</text>
<path transform="translate(48.67,653.03) scale(0.00879,-0.00977)" d="M763 0H583V1147Q518 1085 412.5 1023T223 930V1104Q380 1178 497.5 1283T664 1466H763Z" fill="#000" stroke="#000" stroke-width="28.44"/>
<text transform="translate(59.13,653.03) scale(1,1.1111)" font-size="18" stroke-width="0.25" stroke="#000" fill="#000">0</text>
<text transform="translate(69.59,653.03) scale(1,1.1111)" font-size="18" stroke-width="0.25" stroke="#000" fill="#000">0</text>
<text transform="translate(308.87,726.5) scale(1,1.1389)" font-size="18" stroke-width="0.25" stroke="#ff0000" fill="#ff0000">0</text>
<text transform="translate(319.28,726.5) scale(1,1.1389)" font-size="18" stroke-width="0.25" stroke="#ff0000" fill="#ff0000">.</text>
<text transform="translate(324.68,726.5) scale(1,1.1389)" font-size="18" stroke-width="0.25" stroke="#ff0000" fill="#ff0000">8</text>
<text transform="translate(335.09,726.5) scale(1,1.1389)" font-size="18" stroke-width="0.25" stroke="#ff0000" fill="#ff0000">6</text>
</g>
<g>
<path d="M509.88 741v-6M509.88 632.9v6.5M526.65 741v-6M526.65 632.9v6.5M543.43 741v-6M543.43 632.9v6.5M560.21 741v-6M560.21 632.9v6.5M576.99 741v-12.1M576.99 632.9v12.8M593.76 741v-6M593.76 632.9v6.5M610.54 741v-6M610.54 632.9v6.5M627.32 741v-6M627.32 632.9v6.5M644.09 741v-6M644.09 632.9v6.5M660.87 741v-12.1M660.87 632.9v12.8M677.65 741v-6M677.65 632.9v6.5M694.43 741v-6M694.43 632.9v6.5M711.2 741v-6M711.2 632.9v6.5M727.98 741v-6M727.98 632.9v6.5M744.76 741v-12.1M744.76 632.9v12.8M761.53 741v-6M761.53 632.9v6.5M778.31 741v-6M778.31 632.9v6.5M493.1 731.17h6.4M786.7 731.17h-5.8M493.1 721.35h6.4M786.7 721.35h-5.8M493.1 711.52h6.4M786.7 711.52h-5.8M493.1 701.69h6.4M786.7 701.69h-5.8M493.1 691.86h12.2M786.7 691.86h-11.8M493.1 682.04h6.4M786.7 682.04h-5.8M493.1 672.21h6.4M786.7 672.21h-5.8M493.1 662.38h6.4M786.7 662.38h-5.8M493.1 652.55h6.4M786.7 652.55h-5.8M493.1 642.73h12.2M786.7 642.73h-11.8" stroke="#000" stroke-width="1.55" fill="none"/>
<rect x="493.1" y="632.9" width="293.6" height="108.1" fill="none" stroke="#000" stroke-width="1.65"/>
<path d="M505.68 727.73V734.22M499.28 727.73H512.08M499.28 734.22H512.08M556.01 718V726.65M549.61 718H562.41M549.61 726.65H562.41M581.18 714.17V720.66M574.78 714.17H587.58M574.78 720.66H587.58M631.51 695.89V706.31M625.11 695.89H637.91M625.11 706.31H637.91M656.68 690.29V702.48M650.28 690.29H663.08M650.28 702.48H663.08M681.84 688.62V699.43M675.44 688.62H688.24M675.44 699.43H688.24M707.01 678.01V689.41M700.61 678.01H713.41M700.61 689.41H713.41M732.17 658.35V679.38M725.77 658.35H738.57M725.77 679.38H738.57M757.34 669.65V692.65M750.94 669.65H763.74M750.94 692.65H763.74" stroke="#000" stroke-width="1.5" fill="none"/>
<circle cx="505.68" cy="730.98" r="6.3" fill="#000"/>
<circle cx="556.01" cy="722.33" r="6.3" fill="#000"/>
<circle cx="581.18" cy="717.41" r="6.3" fill="#000"/>
<circle cx="606.35" cy="703.95" r="6.3" fill="#000"/>
<circle cx="631.51" cy="701.1" r="6.3" fill="#000"/>
<circle cx="656.68" cy="696.38" r="6.3" fill="#000"/>
<circle cx="681.84" cy="694.03" r="6.3" fill="#000"/>
<circle cx="707.01" cy="683.71" r="6.3" fill="#000"/>
<circle cx="732.17" cy="668.87" r="6.3" fill="#000"/>
<circle cx="757.34" cy="681.15" r="6.3" fill="#000"/>
<polyline points="493.1,741 556.01,674.86 581.18,675.35 606.35,664.84 631.51,663.07 656.68,663.56 681.84,658.65 707.01,658.25 732.17,676.83" fill="none" stroke="#ff0000" stroke-width="1.55" stroke-linejoin="round"/>
<polyline points="493.1,741 556.01,688.52 581.18,665.23 606.35,658.45 631.51,656.49 656.68,662.19 681.84,651.08 707.01,653.24 732.17,656.58" fill="none" stroke="#ff0000" stroke-width="1.55" stroke-linejoin="round"/>
<polyline points="493.1,741 556.01,689.41 581.18,679.68 606.35,682.43 631.51,683.02 656.68,677.12 681.84,661.1 707.01,677.42 732.17,670.05" fill="none" stroke="#ff0000" stroke-width="1.55" stroke-linejoin="round"/>
<polyline points="493.1,741 556.01,690 581.18,683.81 606.35,695.5 631.51,676.34 656.68,673 681.84,684 707.01,694.22 732.17,684.39" fill="none" stroke="#ff0000" stroke-width="1.55" stroke-linejoin="round"/>
<polyline points="493.1,741 556.01,732.55 581.18,699.92 606.35,713.78 631.51,697.47 656.68,691.67 681.84,688.23 707.01,688.03 732.17,691.18 757.34,674.76" fill="none" stroke="#0000ff" stroke-width="1.65" stroke-dasharray="9.6,9.85" stroke-dashoffset="-0.7" stroke-linecap="round" stroke-linejoin="round"/>
<polyline points="505.68,718.4 556.01,693.83 581.18,688.03 606.35,682.63 631.51,679.78 656.68,676.73 681.84,674.37 707.01,672.5 732.17,670.83 757.34,669.85" fill="none" stroke="#12a9a9" stroke-width="1.8" stroke-dasharray="0.6,5.6" stroke-dashoffset="-0.8" stroke-linecap="round"/>
<path d="M757.34 741V730.8M754.54 734.3L757.34 730.8L760.14 734.3" stroke="#000" stroke-width="1.55" fill="none" stroke-linejoin="miter"/>
<text transform="translate(487.79,771) scale(1,1.1389)" font-size="18" stroke-width="0.25" stroke="#000" fill="#000">0</text>
<path transform="translate(566.48,771) scale(0.00879,-0.01001)" d="M763 0H583V1147Q518 1085 412.5 1023T223 930V1104Q380 1178 497.5 1283T664 1466H763Z" fill="#000" stroke="#000" stroke-width="28.44"/>
<text transform="translate(576.89,771) scale(1,1.1389)" font-size="18" stroke-width="0.25" stroke="#000" fill="#000">0</text>
<text transform="translate(650.36,771) scale(1,1.1389)" font-size="18" stroke-width="0.25" stroke="#000" fill="#000">2</text>
<text transform="translate(660.77,771) scale(1,1.1389)" font-size="18" stroke-width="0.25" stroke="#000" fill="#000">0</text>
<text transform="translate(734.25,771) scale(1,1.1389)" font-size="18" stroke-width="0.25" stroke="#000" fill="#000">3</text>
<text transform="translate(744.66,771) scale(1,1.1389)" font-size="18" stroke-width="0.25" stroke="#000" fill="#000">0</text>
<text transform="translate(472.49,751.3) scale(1,1.1111)" font-size="18" stroke-width="0.25" stroke="#000" fill="#000">0</text>
<text transform="translate(462.03,702.16) scale(1,1.1111)" font-size="18" stroke-width="0.25" stroke="#000" fill="#000">5</text>
<text transform="translate(472.49,702.16) scale(1,1.1111)" font-size="18" stroke-width="0.25" stroke="#000" fill="#000">0</text>
<path transform="translate(451.57,653.03) scale(0.00879,-0.00977)" d="M763 0H583V1147Q518 1085 412.5 1023T223 930V1104Q380 1178 497.5 1283T664 1466H763Z" fill="#000" stroke="#000" stroke-width="28.44"/>
<text transform="translate(462.03,653.03) scale(1,1.1111)" font-size="18" stroke-width="0.25" stroke="#000" fill="#000">0</text>
<text transform="translate(472.49,653.03) scale(1,1.1111)" font-size="18" stroke-width="0.25" stroke="#000" fill="#000">0</text>
<text transform="translate(711.77,726.5) scale(1,1.1389)" font-size="18" stroke-width="0.25" stroke="#ff0000" fill="#ff0000">0</text>
<text transform="translate(722.18,726.5) scale(1,1.1389)" font-size="18" stroke-width="0.25" stroke="#ff0000" fill="#ff0000">.</text>
<text transform="translate(727.58,726.5) scale(1,1.1389)" font-size="18" stroke-width="0.25" stroke="#ff0000" fill="#ff0000">8</text>
<text transform="translate(737.99,726.5) scale(1,1.1389)" font-size="18" stroke-width="0.25" stroke="#ff0000" fill="#ff0000">4</text>
</g>
<text class="s" stroke="#000" stroke-width="3.5" font-size="200" transform="matrix(0.1199,0,0,0.1402,360.0206,35.4197)">U</text>
<text class="s" stroke="#000" stroke-width="3.5" font-size="200" transform="matrix(0.1231,0,0,0.1403,379.4154,35.4194)">G</text>
<text class="s" stroke="#000" stroke-width="3.5" font-size="200" transform="matrix(0.1167,0,0,0.1403,399.4667,35.4194)">C</text>
<text class="s" stroke="#000" stroke-width="3.5" font-size="200" transform="matrix(0.16,0,0,0.1391,428.98,35.3218)">5</text>
<text class="s" stroke="#000" stroke-width="3.5" font-size="200" transform="matrix(0.1605,0,0,0.14,445.3136,35.44)">7</text>
<text class="s" stroke="#000" stroke-width="3.5" font-size="200" transform="matrix(0.16,0,0,0.1391,462.38,35.3218)">5</text>
<text class="s" stroke="#000" stroke-width="3.5" font-size="200" transform="matrix(0.1512,0,0,0.14,479.8905,35.42)">0</text>
<g transform="translate(368.2,801.1) scale(1,1)"><path d="M0.2,-13.05H4.9V-1.4Q4.9,-1.05 6.9,-0.95V0H0.2V-0.95Q2.6,-1.05 2.6,-1.5V-11.7Q2.5,-12.1 0.2,-12.2Z" fill="#000"/><path d="M4.6,-8.6C5.3,-11.1 7.2,-12.4 9.3,-12.4L10.6,-12.1" stroke="#000" stroke-width="1.3" fill="none" stroke-linecap="round"/><circle cx="10.7" cy="-10.85" r="1.5" fill="#000"/></g>
<text class="s" font-size="200" transform="matrix(0.1255,0,0,0.1483,396.7706,799.77)">(</text>
<text class="s" font-size="200" transform="matrix(0.1665,0,0,0.1442,407.0848,800.8116)">a</text>
<g transform="translate(424.9,801.1) scale(1.04,1)"><path d="M0.2,-13.05H4.9V-1.4Q4.9,-1.05 6.9,-0.95V0H0.2V-0.95Q2.6,-1.05 2.6,-1.5V-11.7Q2.5,-12.1 0.2,-12.2Z" fill="#000"/><path d="M4.6,-8.6C5.3,-11.1 7.2,-12.4 9.3,-12.4L10.6,-12.1" stroke="#000" stroke-width="1.3" fill="none" stroke-linecap="round"/><circle cx="10.7" cy="-10.85" r="1.5" fill="#000"/></g>
<text class="s" font-size="200" transform="matrix(0.1427,0,0,0.1427,439.6587,800.8146)">c</text>
<text class="s" font-size="200" transform="matrix(0.1524,0,0,0.1427,453.681,800.8146)">s</text>
<text class="s" font-size="200" transform="matrix(0.1622,0,0,0.1427,466.2027,800.8146)">e</text>
<text class="s" font-size="200" transform="matrix(0.1573,0,0,0.1427,482.2413,800.8146)">c</text>
<text class="s" font-size="200" transform="matrix(0.1212,0,0,0.1483,501.4731,799.77)">)</text>
<g transform="rotate(-90)">
<text class="s" stroke="#000" stroke-width="3" font-size="200" transform="matrix(0.1107,0,0,0.1361,-446.8214,31.0917)">V</text>
<text class="s" font-size="200" transform="matrix(0.1392,0,0,0.1528,-415.7529,31.2833)">(</text>
<text class="s" font-size="200" transform="matrix(0.149,0,0,0.1348,-404.1958,32)">k</text>
<text class="s" font-size="200" transform="matrix(0.1615,0,0,0.1351,-386.6459,32)">m</text>
<line x1="-357.6" y1="36.9" x2="-344" y2="11.3" stroke="#000" stroke-width="1.35"/>
<text class="s" font-size="200" transform="matrix(0.1587,0,0,0.1385,-340.8698,32.2229)">s</text>
<text class="s" font-size="200" transform="matrix(0.1327,0,0,0.1506,-326.3962,31.2767)">)</text>
</g>
</svg></body></html>
